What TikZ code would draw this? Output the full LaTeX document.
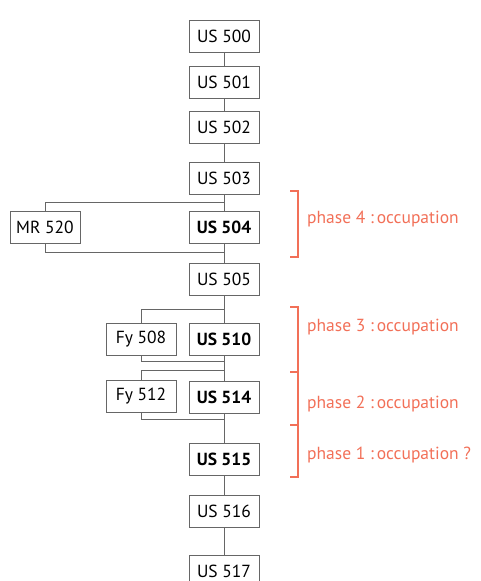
\documentclass[tikz,border=0pt]{standalone}
\usepackage{fontspec}
\setmainfont{PT Sans}
\usetikzlibrary{positioning, calc}
\definecolor{phasered}{RGB}{242,112,88}
\tikzset{
  usbox/.style={draw=black!60, fill=white, line width=0.9pt, minimum width=70pt, minimum height=32pt, inner sep=0pt, font=\fontsize{17.5}{20}\selectfont},
  link/.style={draw=black!60, line width=0.9pt},
  phaseline/.style={draw=phasered, line width=1.4pt},
  phaselabel/.style={anchor=west, inner sep=0pt, text=phasered, font=\fontsize{17.5}{20}\selectfont},
}

\begin{document}
\begin{tikzpicture}[x=1pt, y=-1pt]
\useasboundingbox (0,0) rectangle (480,581);
% main column of units
\foreach \n/\y/\txt in {%
    500/36/US 500,
    501/82/US 501,
    502/127/US 502,
    503/178/US 503,
    504/227/{\bfseries US 504},
    505/279/US 505,
    510/339/{\bfseries US 510},
    514/397/{\bfseries US 514},
    515/459/{\bfseries US 515},
    516/511/US 516,
    517/571/US 517
} {
    \node[usbox] (us\n) at (224,\y) {\txt};
}
\foreach \a/\b in {500/501, 501/502, 502/503, 503/504, 504/505, 505/510, 510/514, 514/515, 515/516, 516/517} {
    \draw[link] (us\a) -- (us\b);
}
% side units
\node[usbox] (mr520) at (45,227) {MR 520};
\node[usbox] (fy508) at (141,339) {Fy 508};
\node[usbox] (fy512) at (141,396) {Fy 512};
\coordinate (mrtop) at (224,202);
\coordinate (mrbot) at (224,252);
\coordinate (fy508top) at (224,309);
\coordinate (fy508bot) at (224,361);
\coordinate (fy512top) at (224,370);
\coordinate (fy512bot) at (224,419);
\draw[link] (mr520.north) |- (mrtop);
\draw[link] (mr520.south) |- (mrbot);
\draw[link] (fy508.north) |- (fy508top);
\draw[link] (fy508.south) |- (fy508bot);
\draw[link] (fy512.north) |- (fy512top);
\draw[link] (fy512.south) |- (fy512bot);
% phases
\draw[phaseline] (290,191) -| (298,257) -- (290,257);
\draw[phaseline] (290,307) -| (298,477) -- (290,477);
\draw[phaseline] (290,372) -- (298,372);
\draw[phaseline] (290,425) -- (298,425);
\node[phaselabel] (ph4) at (307,219) {phase 4 :\,occupation};
\node[phaselabel] (ph3) at (307,327) {phase 3 :\,occupation};
\node[phaselabel] (ph2) at (307,404) {phase 2 :\,occupation};
\node[phaselabel] (ph1) at (307,455) {phase 1 :\,occupation ?};
\end{tikzpicture}
\end{document}
